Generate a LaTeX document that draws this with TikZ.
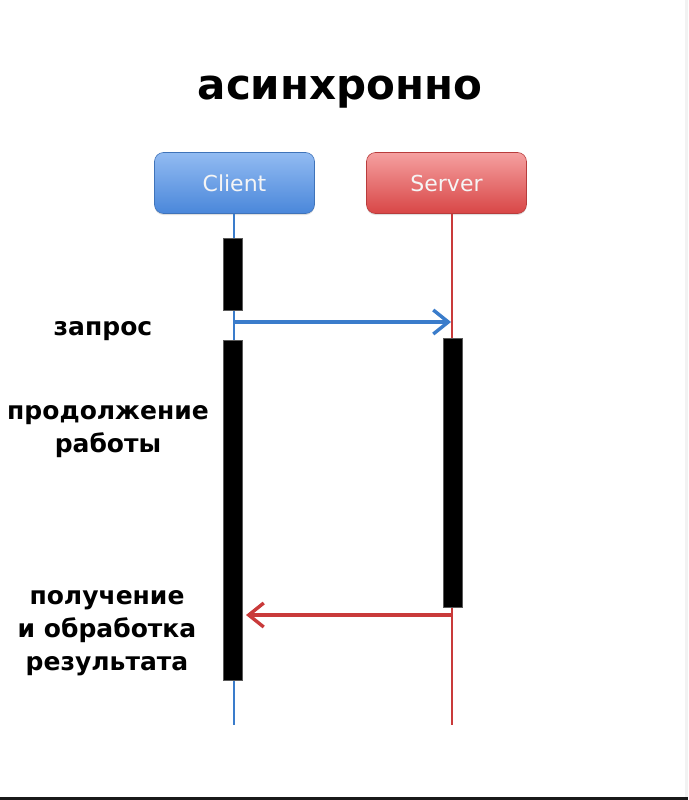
\documentclass[tikz,border=0pt]{standalone}
\usepackage{fontspec}
\setmainfont{DejaVu Sans}
\newfontfamily\boxfont{DejaVu Sans}
\usetikzlibrary{arrows.meta,shadows}
\definecolor{cblue}{HTML}{3A7CCB}
\definecolor{cred}{HTML}{C93A3A}
\definecolor{cbtop}{HTML}{92BBF2}
\definecolor{cbbot}{HTML}{4A87DA}
\definecolor{crtop}{HTML}{F5A0A0}
\definecolor{crbot}{HTML}{D84646}
\begin{document}
\begin{tikzpicture}[x=1pt,y=-1pt,
  actor/.style={rounded corners=9pt, minimum width=160pt, minimum height=61pt,
    inner sep=0pt, font=\boxfont\fontsize{22}{22}\selectfont, text=white!92!gray,
    drop shadow={shadow xshift=0pt, shadow yshift=-1.5pt, opacity=0.25}},
  actbar/.style={fill=black, draw=black!65, line width=1pt, minimum width=19pt, inner sep=0pt},
  lbl/.style={font=\bfseries\fontsize{25}{33}\selectfont, align=center, anchor=base},
  bline/.style={cblue, line width=2.4pt},
  rline/.style={cred, line width=2.4pt},
  msg/.style={line width=3.2pt, -{Straight Barb[length=15pt,width=24pt,line width=3.4pt]}}
]
\useasboundingbox (0,0) rectangle (688,800);
\fill[white] (0,0) rectangle (688,800);
\fill[black!5] (685,0) rectangle (688,797);
\fill[black!90] (0,797) rectangle (688,800);

\node[font=\bfseries\fontsize{42}{42}\selectfont, anchor=base] (title) at (340,99) {асинхронно};

\node[actor, top color=cbtop, bottom color=cbbot, draw=cbbot!85!black, line width=0.6pt] (client) at (234.5,183) {Client};
\node[actor, top color=crtop, bottom color=crbot, draw=crbot!85!black, line width=0.6pt] (server) at (446.5,183) {Server};

\coordinate (cend) at (234,725);
\coordinate (send) at (452,725);
\draw[bline] (client.south -| cend) -- (cend);
\draw[rline] (server.south -| send) -- (send);

\node[actbar, minimum height=72pt] (cb1) at (233,274.5) {};
\node[actbar, minimum height=340pt] (cb2) at (233,510) {};
\node[actbar, minimum height=269pt] (sb) at (452.5,472.5) {};

\coordinate (reqS) at (234,322);
\coordinate (reqE) at (451,322);
\draw[msg, cblue] (reqS) -- (reqE);

\coordinate (resS) at (452,615);
\coordinate (resE) at (246,615);
\draw[msg, cred] (resS) -- (resE);

\node[lbl] (l1) at (103,335) {запрос};
\node[lbl] (l2) at (108,452) {продолжение\\работы};
\node[lbl] (l3) at (107,670) {получение\\и обработка\\результата};
\end{tikzpicture}
\end{document}
